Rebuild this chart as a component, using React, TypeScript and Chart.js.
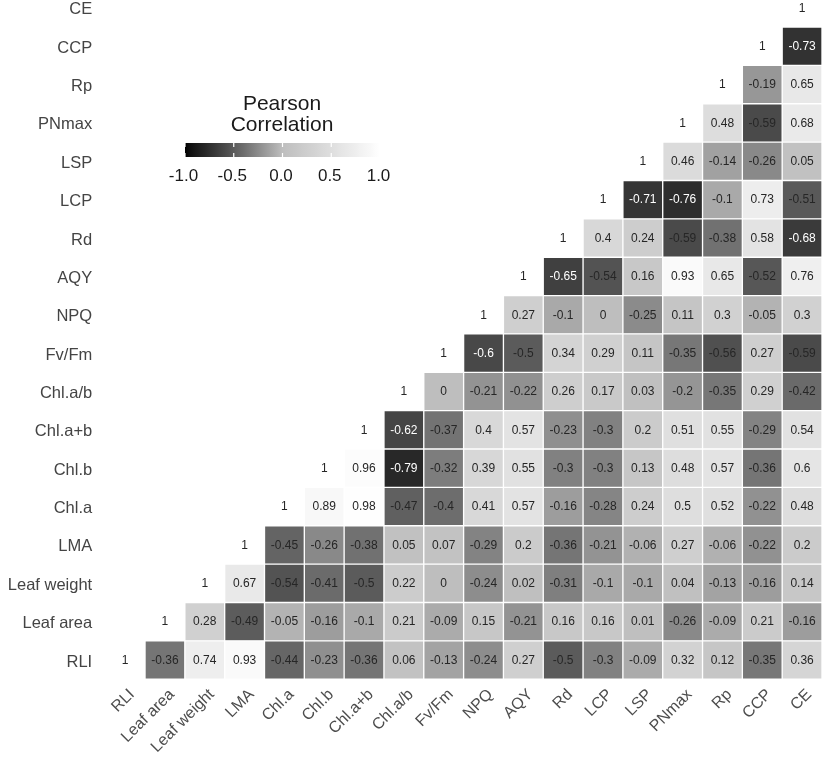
import React, { useEffect, useRef } from 'react';
import { Chart, registerables } from 'chart.js';

Chart.register(...registerables);

// Variables, in axis order (x: left to right, y: bottom to top)
const variables = [
  'RLI', 'Leaf area', 'Leaf weight', 'LMA', 'Chl.a', 'Chl.b', 'Chl.a+b', 'Chl.a/b',
  'Fv/Fm', 'NPQ', 'AQY', 'Rd', 'LCP', 'LSP', 'PNmax', 'Rp', 'CCP', 'CE',
];

// Pearson correlations: each row lists the row variable against itself and every later variable
const rowRLI = [1, -0.36, 0.74, 0.93, -0.44, -0.23, -0.36, 0.06, -0.13, -0.24, 0.27, -0.5, -0.3, -0.09, 0.32, 0.12, -0.35, 0.36];
const rowLeafArea = [1, 0.28, -0.49, -0.05, -0.16, -0.1, 0.21, -0.09, 0.15, -0.21, 0.16, 0.16, 0.01, -0.26, -0.09, 0.21, -0.16];
const rowLeafWeight = [1, 0.67, -0.54, -0.41, -0.5, 0.22, 0, -0.24, 0.02, -0.31, -0.1, -0.1, 0.04, -0.13, -0.16, 0.14];
const rowLMA = [1, -0.45, -0.26, -0.38, 0.05, 0.07, -0.29, 0.2, -0.36, -0.21, -0.06, 0.27, -0.06, -0.22, 0.2];
const rowChlA = [1, 0.89, 0.98, -0.47, -0.4, 0.41, 0.57, -0.16, -0.28, 0.24, 0.5, 0.52, -0.22, 0.48];
const rowChlB = [1, 0.96, -0.79, -0.32, 0.39, 0.55, -0.3, -0.3, 0.13, 0.48, 0.57, -0.36, 0.6];
const rowChlAB = [1, -0.62, -0.37, 0.4, 0.57, -0.23, -0.3, 0.2, 0.51, 0.55, -0.29, 0.54];
const rowChlRatio = [1, 0, -0.21, -0.22, 0.26, 0.17, 0.03, -0.2, -0.35, 0.29, -0.42];
const rowFvFm = [1, -0.6, -0.5, 0.34, 0.29, 0.11, -0.35, -0.56, 0.27, -0.59];
const rowNPQ = [1, 0.27, -0.1, 0, -0.25, 0.11, 0.3, -0.05, 0.3];
const rowAQY = [1, -0.65, -0.54, 0.16, 0.93, 0.65, -0.52, 0.76];
const rowRd = [1, 0.4, 0.24, -0.59, -0.38, 0.58, -0.68];
const rowLCP = [1, -0.71, -0.76, -0.1, 0.73, -0.51];
const rowLSP = [1, 0.46, -0.14, -0.26, 0.05];
const rowPNmax = [1, 0.48, -0.59, 0.68];
const rowRp = [1, -0.19, 0.65];
const rowCCP = [1, -0.73];
const rowCE = [1];

const correlationRows = [
  rowRLI, rowLeafArea, rowLeafWeight, rowLMA, rowChlA, rowChlB, rowChlAB, rowChlRatio,
  rowFvFm, rowNPQ, rowAQY, rowRd, rowLCP, rowLSP, rowPNmax, rowRp, rowCCP, rowCE,
];

const legendTicks = [-1, -0.5, 0, 0.5, 1];
const legendTitle = ['Pearson', 'Correlation'];

// black -> grey (#BEBEBE) -> white, interpolated in CIE Lab lightness
const MID_L = 76.95;
function fillFor(v: number): string {
  const L = v < 0 ? MID_L * (1 + v) : MID_L + (100 - MID_L) * v;
  const Y = L > 8 ? Math.pow((L + 16) / 116, 3) : L / 903.3;
  const s = Y <= 0.0031308 ? 12.92 * Y : 1.055 * Math.pow(Y, 1 / 2.4) - 0.055;
  const g = Math.max(0, Math.min(255, Math.round(s * 255)));
  return `rgb(${g},${g},${g})`;
}

const FONT = "Arial, 'Liberation Sans', Helvetica, sans-serif";

const cellText = {
  id: 'cellText',
  afterDatasetsDraw(chart: any) {
    const ctx = chart.ctx;
    ctx.save();
    ctx.font = `12px ${FONT}`;
    ctx.textAlign = 'center';
    ctx.textBaseline = 'middle';
    chart.data.datasets.forEach((ds: any, r: number) => {
      const meta = chart.getDatasetMeta(r);
      meta.data.forEach((el: any, c: number) => {
        const v = ds.values[c];
        if (v === null || v === undefined) return;
        const p = el.getProps(['x', 'y', 'base'], true);
        const cy = (p.y + p.base) / 2;
        ctx.fillStyle = v <= -0.6 ? '#ffffff' : '#262626';
        ctx.fillText(String(v), p.x, cy + 0.5);
      });
    });
    ctx.restore();
  },
};

const colorLegend = {
  id: 'colorLegend',
  afterDraw(chart: any) {
    const ctx = chart.ctx;
    const x0 = 185, x1 = 380, top = 143, h = 14;
    const cx = (x0 + x1) / 2;
    ctx.save();
    ctx.fillStyle = '#1a1a1a';
    ctx.textAlign = 'center';
    ctx.textBaseline = 'middle';
    ctx.font = `21px ${FONT}`;
    ctx.fillText(legendTitle[0], cx - 0.5, 104);
    ctx.fillText(legendTitle[1], cx - 0.5, 125);
    const grad = ctx.createLinearGradient(x0, 0, x1, 0);
    for (let i = 0; i <= 40; i++) {
      const v = -1 + (2 * i) / 40;
      grad.addColorStop(i / 40, fillFor(v));
    }
    ctx.fillStyle = grad;
    ctx.fillRect(x0, top, x1 - x0, h);
    ctx.strokeStyle = '#ffffff';
    ctx.lineWidth = 1.2;
    legendTicks.forEach((t) => {
      const x = x0 + ((t + 1) / 2) * (x1 - x0);
      ctx.beginPath();
      ctx.moveTo(x, top);
      ctx.lineTo(x, top + 4);
      ctx.moveTo(x, top + h - 4);
      ctx.lineTo(x, top + h);
      ctx.stroke();
    });
    ctx.fillStyle = '#1a1a1a';
    ctx.font = `17px ${FONT}`;
    legendTicks.forEach((t) => {
      const x = x0 + ((t + 1) / 2) * (x1 - x0);
      ctx.fillText(t.toFixed(1), x - 1.5, 176);
    });
    ctx.restore();
  },
};

export default function App() {
  const canvasRef = useRef<HTMLCanvasElement | null>(null);

  useEffect(() => {
    const canvas = canvasRef.current;
    if (!canvas) return;
    const datasets = correlationRows.map((row, r) => {
      const values: (number | null)[] = variables.map((_, c) => (c >= r ? row[c - r] : null));
      return {
        label: variables[r],
        values,
        data: values.map((v) => (v === null ? null : [r - 0.5, r + 0.5])),
        backgroundColor: values.map((v) => (v === null ? 'rgba(0,0,0,0)' : fillFor(v))),
        borderColor: '#ffffff',
        borderWidth: 1,
        borderSkipped: false,
        grouped: false,
        barPercentage: 1,
        categoryPercentage: 1,
      };
    });

    const chart = new Chart(canvas, {
      type: 'bar',
      data: { labels: variables, datasets: datasets as any },
      options: {
        animation: false,
        responsive: false,
        devicePixelRatio: 1,
        layout: { padding: { left: 0, right: 5, top: 0, bottom: 0 } },
        plugins: { legend: { display: false }, tooltip: { enabled: false } },
        scales: {
          x: {
            type: 'category',
            offset: true,
            grid: { display: false, drawTicks: false },
            border: { display: false },
            ticks: {
              autoSkip: false,
              minRotation: 45,
              maxRotation: 45,
              padding: 6,
              labelOffset: 7,
              color: '#4d4d4d',
              font: { family: FONT, size: 16 },
            },
            afterFit: (scale: any) => {
              scale.height = 81.8;
              scale.paddingLeft = 0;
              scale.paddingRight = 0;
            },
          },
          y: {
            type: 'linear',
            min: -0.5,
            max: 17.205,
            grid: { display: false, drawTicks: false },
            border: { display: false },
            afterBuildTicks: (scale: any) => {
              scale.ticks = variables.map((_, i) => ({ value: i }));
            },
            ticks: {
              autoSkip: false,
              padding: 13,
              labelOffset: 2,
              color: '#444444',
              font: { family: FONT, size: 16.5 },
              callback: (v: any) => variables[Math.round(Number(v))] ?? '',
            },
            afterFit: (scale: any) => {
              scale.width = 105.2;
              scale.paddingTop = 0;
              scale.paddingBottom = 0;
            },
          },
        },
      },
      plugins: [cellText, colorLegend],
    });
    return () => chart.destroy();
  }, []);

  return (
    <div style={{ position: 'absolute', left: 0, top: 0, width: 827, height: 761, background: '#fff' }}>
      <canvas ref={canvasRef} width={827} height={761} style={{ display: 'block' }} />
    </div>
  );
}
